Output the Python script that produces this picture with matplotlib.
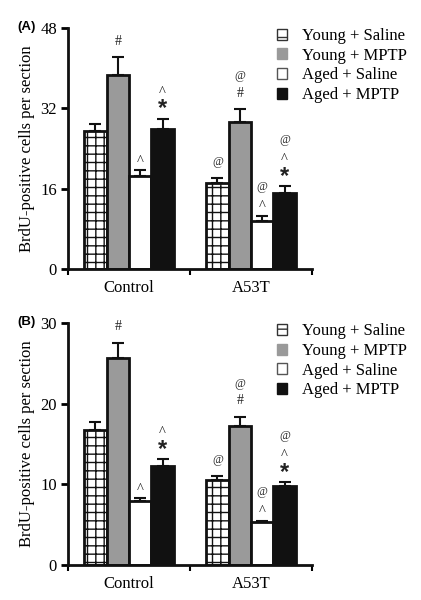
import matplotlib

matplotlib.use("Agg")
import matplotlib.pyplot as plt
from matplotlib.patches import Patch
import numpy as np

plt.rcParams["font.family"] = ["Liberation Serif", "DejaVu Serif"]
plt.rcParams["hatch.linewidth"] = 1.0

groups = ["Control", "A53T"]
conditions = ["Young + Saline", "Young + MPTP", "Aged + Saline", "Aged + MPTP"]

# rows: groups, columns: conditions
a_means = [[27.5, 38.6, 18.6, 27.8], [17.1, 29.2, 9.6, 15.2]]
a_sem = [[1.4, 3.6, 1.1, 2.1], [1.1, 2.6, 1.0, 1.3]]
b_means = [[16.7, 25.7, 7.9, 12.3], [10.5, 17.2, 5.3, 9.8]]
b_sem = [[1.0, 1.9, 0.4, 0.8], [0.5, 1.2, 0.2, 0.5]]

# significance marks per bar, listed bottom to top
marks = [
    [[], ["#"], ["^"], ["*", "^"]],
    [["@"], ["#", "@"], ["^", "@"], ["*", "^", "@"]],
]

a_ticks = [0, 16, 32, 48]
b_ticks = [0, 10, 20, 30]

faces = ["white", "#9a9a9a", "white", "#111111"]
hatches = ["++", None, None, None]
# symbol: (fontsize, weight, gap above error bar in px, glyph centre shift in px)
sym_style = {
    "#": (10, "normal", 17.5, 1.5),
    "^": (10.5, "normal", 13, 4),
    "@": (8.5, "normal", 17, 1),
    "*": (17, "bold", 14, 4),
}
STEP_PX = 16.5
BAR_W = 0.184


def draw_panel(ax, means, sem, ticks, label):
    means = np.array(means)
    sem = np.array(sem)
    for gi in range(len(groups)):
        for ci in range(len(conditions)):
            x = gi + 0.5 + (ci - 1.5) * BAR_W
            ax.bar(x, means[gi, ci], BAR_W, color=faces[ci], edgecolor="#111111",
                   linewidth=2, hatch=hatches[ci], zorder=2)
            ax.errorbar(x, means[gi, ci], yerr=[[0], [sem[gi, ci]]], color="#111111",
                        capsize=4, elinewidth=1.5, capthick=1.5, zorder=1)
            top = means[gi, ci] + sem[gi, ci]
            stack = marks[gi][ci]
            for k, s in enumerate(stack):
                size, weight, _, shift = sym_style[s]
                vis = sym_style[stack[0]][2] + STEP_PX * k
                off = (vis - shift) * 0.72
                ax.annotate(s, (x, top), xytext=(0, off), textcoords="offset points",
                            ha="center", va="center", fontsize=size, fontweight=weight,
                            family=["Liberation Sans"] if s == "*" else None,
                            color="#222222")
    ax.set_xlim(0, 2)
    ax.set_ylim(0, ticks[-1])
    ax.set_yticks(ticks)
    ax.set_xticks([0.5, 1.5])
    ax.set_xticklabels(groups)
    ax.set_xticks([0, 1, 2], minor=True)
    ax.tick_params(axis="x", which="major", length=0, pad=8, labelsize=12)
    ax.tick_params(axis="x", which="minor", length=4, width=1.5)
    ax.tick_params(axis="y", length=5, width=2, labelsize=12, pad=3)
    for side in ["top", "right"]:
        ax.spines[side].set_visible(False)
    for side in ["left", "bottom"]:
        ax.spines[side].set_linewidth(2)
        ax.spines[side].set_color("#111111")
    ax.set_ylabel("BrdU-positive cells per section", fontsize=12, labelpad=4)
    ax.text(-0.209, 1.005, label, transform=ax.transAxes, fontsize=9.5, fontweight="bold",
            family=["Liberation Sans"], ha="left", va="center")
    edges = ["#333333", "#9a9a9a", "#555555", "#111111"]
    handles = [Patch(facecolor=faces[i], edgecolor=edges[i], linewidth=1,
                     hatch="--" if i == 0 else None) for i in range(4)]
    ax.legend(handles, conditions, loc="upper left", bbox_to_anchor=(0.855, 1.0), frameon=False,
              fontsize=12, handlelength=0.65, handleheight=0.65, handletextpad=0.85,
              labelspacing=0.22, borderpad=0, borderaxespad=0)


fig = plt.figure(figsize=(4.21, 6.0), dpi=100)
ax_a = fig.add_axes([0.1615, 0.5517, 0.5796, 0.4017])
ax_b = fig.add_axes([0.1615, 0.0583, 0.5796, 0.4029])
draw_panel(ax_a, a_means, a_sem, a_ticks, "(A)")
draw_panel(ax_b, b_means, b_sem, b_ticks, "(B)")
fig.savefig("out.png", dpi=100)
